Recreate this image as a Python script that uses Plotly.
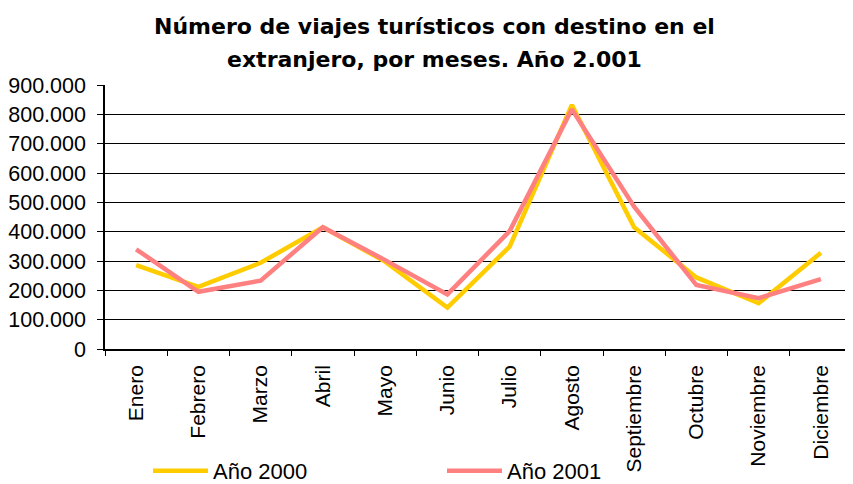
import plotly.graph_objects as go

meses = ["Enero", "Febrero", "Marzo", "Abril", "Mayo", "Junio", "Julio",
         "Agosto", "Septiembre", "Octubre", "Noviembre", "Diciembre"]
anio_2000 = [286000, 212000, 294000, 415000, 298000, 141000, 349000,
             832000, 415000, 244000, 156000, 328000]
anio_2001 = [340000, 195000, 233000, 415000, 303000, 186000, 402000,
             817000, 485000, 218000, 173000, 238000]
y_ticks = [0, 100000, 200000, 300000, 400000, 500000, 600000, 700000, 800000, 900000]
titulo_1 = "Número de viajes turísticos con destino en el"
titulo_2 = "extranjero, por meses. Año 2.001"

FONT = "Liberation Sans, Arial, sans-serif"
TFONT = "DejaVu Sans, Liberation Sans, sans-serif"

# page body has an 8px margin: figure origin sits at (8, 8) of the window
OFF = 8
W, H = 853 - OFF, 484 - OFF
L, T = 105 - OFF, 85 - OFF
R = W - (852 - OFF)
B = H - (349 - OFF)
PW, PH = W - L - R, H - T - B

def py(ypix):
    return (H - B - (ypix - OFF)) / PH

def px(xpix):
    return ((xpix - OFF) - L) / PW

fig = go.Figure()
fig.add_trace(go.Scatter(x=meses, y=anio_2000, mode="lines", name="Año 2000",
                         line=dict(color="#FFCC00", width=4.5)))
fig.add_trace(go.Scatter(x=meses, y=anio_2001, mode="lines", name="Año 2001",
                         line=dict(color="#FF8080", width=4.5)))

fig.update_layout(
    width=W, height=H,
    margin=dict(l=L, r=R, t=T, b=B, autoexpand=False),
    paper_bgcolor="white", plot_bgcolor="white",
    separators=",.",
    font=dict(family=FONT, size=21, color="black"),
    showlegend=True,
    legend=dict(orientation="h", x=px(148), y=py(471), xanchor="left", yanchor="middle",
                entrywidth=224, entrywidthmode="pixels", itemwidth=55,
                font=dict(family=FONT, size=22, color="black"),
                bgcolor="rgba(0,0,0,0)"),
)
fig.add_annotation(text="<b>" + titulo_1 + "</b>",
                   x=px(434), y=py(27), xref="paper", yref="paper", yanchor="middle",
                   showarrow=False, font=dict(family=TFONT, size=22, color="black"))
fig.add_annotation(text="<b>" + titulo_2 + "</b>",
                   x=px(434), y=py(60), xref="paper", yref="paper", yanchor="middle",
                   showarrow=False, font=dict(family=TFONT, size=22, color="black"))

fig.update_xaxes(type="category", showgrid=False, showline=True, linecolor="black",
                 linewidth=1.5, ticks="outside", tickson="boundaries", ticklen=5,
                 tickcolor="black", tickangle=-90, ticklabelstandoff=6,
                 tickfont=dict(family=FONT, size=21, color="black"),
                 range=[-0.5, 11.5], fixedrange=True, automargin=False)
fig.update_yaxes(range=[0, 900000], tickvals=y_ticks, tickformat=",.0f",
                 showgrid=True, gridcolor="black", gridwidth=1,
                 showline=True, linecolor="black", linewidth=1.5,
                 ticks="outside", ticklen=6, tickcolor="black",
                 ticklabelstandoff=7, zeroline=False, automargin=False,
                 tickfont=dict(family=FONT, size=21.5, color="black"))

fig.write_html("out.html")
